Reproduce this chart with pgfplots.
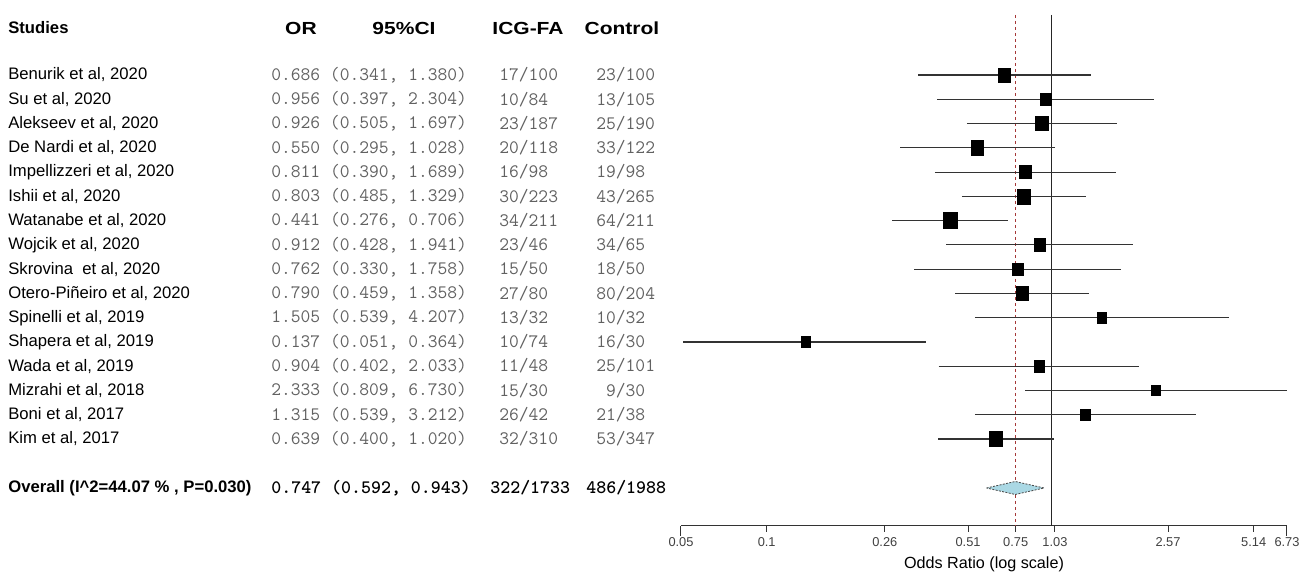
\documentclass[border=0pt]{standalone}
\usepackage{pgfplots}
\pgfplotsset{compat=1.18}
\usepackage{pgfplotstable}
\usepackage{fontspec}
\setmainfont{Liberation Sans}
\newfontfamily\hdr[FakeStretch=1.2]{Liberation Sans}
\definecolor{numgray}{gray}{0.38}
\definecolor{dashred}{RGB}{165,55,55}
\definecolor{diamondfill}{RGB}{170,216,228}

% study data: y (= -pixel row), OR, lower, upper, half box size (pt)
\pgfplotstableread{
y or lo hi ms
-75    0.686 0.341 1.380 3.6
-99.3  0.956 0.397 2.304 3.3
-123.5 0.926 0.505 1.697 3.75
-147.8 0.550 0.295 1.028 3.75
-172.1 0.811 0.390 1.689 3.45
-196.4 0.803 0.485 1.329 3.9
-220.6 0.441 0.276 0.706 4.2
-244.9 0.912 0.428 1.941 3.3
-269.2 0.762 0.330 1.758 3.15
-293.4 0.790 0.459 1.358 3.75
-317.7 1.505 0.539 4.207 2.7
-342.0 0.137 0.051 0.364 2.7
-366.2 0.904 0.402 2.033 3.0
-390.5 2.333 0.809 6.730 2.55
-414.8 1.315 0.539 3.212 2.85
-439.0 0.639 0.400 1.020 4.05
}\studies

% confidence interval segments
\pgfplotstableread{
x y
0.341 -75
1.380 -75
nan nan
0.397 -99.3
2.304 -99.3
nan nan
0.505 -123.5
1.697 -123.5
nan nan
0.295 -147.8
1.028 -147.8
nan nan
0.390 -172.1
1.689 -172.1
nan nan
0.485 -196.4
1.329 -196.4
nan nan
0.276 -220.6
0.706 -220.6
nan nan
0.428 -244.9
1.941 -244.9
nan nan
0.330 -269.2
1.758 -269.2
nan nan
0.459 -293.4
1.358 -293.4
nan nan
0.539 -317.7
4.207 -317.7
nan nan
0.051 -342.0
0.364 -342.0
nan nan
0.402 -366.2
2.033 -366.2
nan nan
0.809 -390.5
6.730 -390.5
nan nan
0.539 -414.8
3.212 -414.8
nan nan
0.400 -439.0
1.020 -439.0
}\cilines

\newcommand\T[4][]{\node[anchor=west,inner sep=0pt,#1] at ({(#2-681)*0.6pt},{(526-#3)*0.6pt}) {#4};}
\newcommand\name{\fontsize{10}{12}\selectfont}
\newcommand\num{\fontsize{11.4}{13}\selectfont\ttfamily\color{numgray}}
\newcommand\head{\fontsize{10.5}{12}\selectfont\bfseries\hdr}

\begin{document}
\begin{tikzpicture}
\begin{axis}[
  at={(0,0)}, anchor=south west,
  scale only axis, width=363.6pt, height=315.6pt,
  xmode=log, xmin=0.05, xmax=6.73, ymin=-526, ymax=0,
  axis x line*=bottom, axis y line=none,
  x axis line style={-, black!80, line width=0.6pt},
  clip=false,
  tick align=outside, major tick length=3.6pt,
  tick style={black!80, line width=0.6pt},
  xtick={0.1,0.26,0.51,0.75,1.03,2.57,5.14},
  xticklabels={0.1,0.26,0.51,0.75,1.03,2.57,5.14},
  extra x ticks={0.05,6.73},
  extra x tick labels={0.05,6.73},
  extra x tick style={major tick length=6pt, xticklabel style={yshift=2.4pt}},
  xminorticks=false,
  ticklabel style={font=\fontsize{7.7}{9}\selectfont, text=black!75},
  xlabel={Odds Ratio (log scale)},
  xlabel style={font=\fontsize{9.7}{11}\selectfont, yshift=10.6pt},
]
% reference lines
\addplot[black!85, line width=0.6pt] coordinates {(1,-15) (1,-526)};
\addplot[dashred, line width=0.6pt, dash pattern=on 2pt off 1.6pt] coordinates {(0.747,-15) (0.747,-526)};
% confidence intervals
\addplot[black!80, line width=0.65pt, unbounded coords=jump] table[x=x,y=y]{\cilines};
% point estimates
\addplot[scatter, only marks, mark=square*,
  mark options={yscale=1.15},
  scatter/use mapped color={draw=black, fill=black},
  visualization depends on={\thisrow{ms} \as \msz},
  scatter/@pre marker code/.append style={/tikz/mark size=\msz}]
  table[x=or,y=y]{\studies};
% overall diamond
\addplot[fill=diamondfill, draw=black!70, line width=0.5pt, dash pattern=on 1.2pt off 0.8pt]
  coordinates {(0.592,-488) (0.747,-481.5) (0.943,-488) (0.747,-494.5)} -- cycle;
\end{axis}

% headers
\T{8}{28}{\fontsize{10}{12}\selectfont\bfseries Studies}
\T[anchor=center]{301}{28}{\head OR}
\T[anchor=center]{404}{28}{\head 95\%CI}
\T[anchor=center]{528}{28}{\head ICG-FA}
\T[anchor=center]{622}{28}{\head Control}

% rows
\T{8}{75}{\name Benurik et al, 2020}
\T{8}{99.3}{\name Su et al, 2020}
\T{8}{123.5}{\name Alekseev et al, 2020}
\T{8}{147.8}{\name De Nardi et al, 2020}
\T{8}{172.1}{\name Impellizzeri et al, 2020}
\T{8}{196.4}{\name Ishii et al, 2020}
\T{8}{220.6}{\name Watanabe et al, 2020}
\T{8}{244.9}{\name Wojcik et al, 2020}
\T{8}{269.2}{\name Skrovina\ \ et al, 2020}
\T{8}{293.4}{\name Otero-Piñeiro et al, 2020}
\T{8}{317.7}{\name Spinelli et al, 2019}
\T{8}{342}{\name Shapera et al, 2019}
\T{8}{366.2}{\name Wada et al, 2019}
\T{8}{390.5}{\name Mizrahi et al, 2018}
\T{8}{414.8}{\name Boni et al, 2017}
\T{8}{439}{\name Kim et al, 2017}

\T{271}{75}{\num 0.686 (0.341, 1.380)}
\T{271}{99.3}{\num 0.956 (0.397, 2.304)}
\T{271}{123.5}{\num 0.926 (0.505, 1.697)}
\T{271}{147.8}{\num 0.550 (0.295, 1.028)}
\T{271}{172.1}{\num 0.811 (0.390, 1.689)}
\T{271}{196.4}{\num 0.803 (0.485, 1.329)}
\T{271}{220.6}{\num 0.441 (0.276, 0.706)}
\T{271}{244.9}{\num 0.912 (0.428, 1.941)}
\T{271}{269.2}{\num 0.762 (0.330, 1.758)}
\T{271}{293.4}{\num 0.790 (0.459, 1.358)}
\T{271}{317.7}{\num 1.505 (0.539, 4.207)}
\T{271}{342}{\num 0.137 (0.051, 0.364)}
\T{271}{366.2}{\num 0.904 (0.402, 2.033)}
\T{271}{390.5}{\num 2.333 (0.809, 6.730)}
\T{271}{414.8}{\num 1.315 (0.539, 3.212)}
\T{271}{439}{\num 0.639 (0.400, 1.020)}

\T{499}{75}{\num 17/100}
\T{499}{99.3}{\num 10/84}
\T{499}{123.5}{\num 23/187}
\T{499}{147.8}{\num 20/118}
\T{499}{172.1}{\num 16/98}
\T{499}{196.4}{\num 30/223}
\T{499}{220.6}{\num 34/211}
\T{499}{244.9}{\num 23/46}
\T{499}{269.2}{\num 15/50}
\T{499}{293.4}{\num 27/80}
\T{499}{317.7}{\num 13/32}
\T{499}{342}{\num 10/74}
\T{499}{366.2}{\num 11/48}
\T{499}{390.5}{\num 15/30}
\T{499}{414.8}{\num 26/42}
\T{499}{439}{\num 32/310}

\T{596}{75}{\num 23/100}
\T{596}{99.3}{\num 13/105}
\T{596}{123.5}{\num 25/190}
\T{596}{147.8}{\num 33/122}
\T{596}{172.1}{\num 19/98}
\T{596}{196.4}{\num 43/265}
\T{596}{220.6}{\num 64/211}
\T{596}{244.9}{\num 34/65}
\T{596}{269.2}{\num 18/50}
\T{596}{293.4}{\num 80/204}
\T{596}{317.7}{\num 10/32}
\T{596}{342}{\num 16/30}
\T{596}{366.2}{\num 25/101}
\T{596}{390.5}{\num \hphantom{0}9/30}
\T{596}{414.8}{\num 21/38}
\T{596}{439}{\num 53/347}

% overall row
\T{8}{488}{\fontsize{10}{12}\selectfont\bfseries Overall (I\^{}2=44.07 \% , P=0.030)}
\T{271}{488}{\fontsize{11.4}{13}\selectfont\ttfamily\bfseries 0.747 (0.592, 0.943)}
\T{490}{488}{\fontsize{11.4}{13}\selectfont\ttfamily\bfseries 322/1733}
\T{586}{488}{\fontsize{11.4}{13}\selectfont\ttfamily\bfseries 486/1988}

% page frame with the reference proportions
\path ({-681*0.6pt},{526*0.6pt}) rectangle ({(1310-681)*0.6pt},{(526-573)*0.6pt});
\end{tikzpicture}
\end{document}
